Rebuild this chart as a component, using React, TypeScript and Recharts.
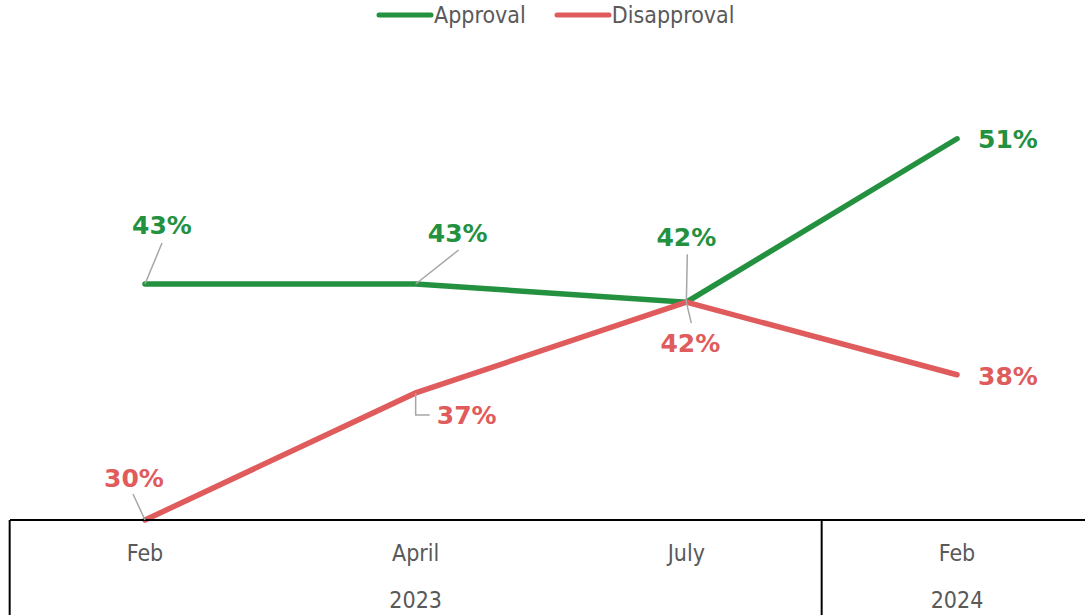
import { LineChart, Line, XAxis, YAxis, LabelList } from 'recharts';

const months = ['Feb', 'April', 'July', 'Feb'];
const years = ['2023', '2023', '2023', '2024'];
const approval = [43, 43, 42, 51];
const disapproval = [30, 37, 42, 38];

const data = months.map((m, i) => ({
    key: `${m} ${years[i]}`,
    approval: approval[i],
    disapproval: disapproval[i],
}));

const GREEN = '#23913f';
const RED = '#e05c5c';
const TEXT = '#595959';
const LEADER = '#a6a6a6';
const AXIS_FONT = "'DejaVu Sans Condensed', 'DejaVu Sans', sans-serif";
const LABEL_FONT = "'DejaVu Sans', sans-serif";

const BAND = 270.67;

// label placement relative to the point: text centre and leader line points
const approvalLabelPos = [
    { dx: 17, dy: -59, leader: [[17, -41]] },
    { dx: 42, dy: -51, leader: [[43, -34]] },
    { dx: 0, dy: -65, leader: [[1, -48]] },
    { dx: 51, dy: 1, leader: [] },
];
const disapprovalLabelPos = [
    { dx: -11, dy: -42, leader: [[-12, -26]] },
    { dx: 51, dy: 23, leader: [[0, 22], [14, 22]] },
    { dx: 4, dy: 41, leader: [[5, 21]] },
    { dx: 51, dy: 2, leader: [] },
];

function makeLabel(color: string, pos: typeof approvalLabelPos) {
    return (props: any) => {
        const { x, y, value, index } = props;
        const p = pos[index];
        if (!p) return null;
        const pts = [[0, 0], ...p.leader].map(([a, b]) => `${x + a},${y + b}`).join(' ');
        return (
            <g>
                {p.leader.length > 0 && (
                    <polyline points={pts} fill="none" stroke={LEADER} strokeWidth={1.5} />
                )}
                <text
                    x={x + p.dx}
                    y={y + p.dy}
                    textAnchor="middle"
                    dominantBaseline="central"
                    fill={color}
                    fontFamily={LABEL_FONT}
                    fontWeight="bold"
                    fontSize={25}
                >
                    {`${value}%`}
                </text>
            </g>
        );
    };
}

function AxisTick(props: any) {
    const { x, y, payload } = props;
    const i = payload.index;
    const isGroupStart = i === 0 || years[i] !== years[i - 1];
    const isLast = i === months.length - 1;
    let groupSize = 0;
    for (let j = i; j < years.length && years[j] === years[i]; j++) groupSize++;
    const groupCenter = x + ((groupSize - 1) / 2) * BAND;
    return (
        <g>
            <text
                x={x}
                y={y + 41}
                textAnchor="middle"
                fill={TEXT}
                fontFamily={AXIS_FONT}
                fontSize={23}
            >
                {months[i]}
            </text>
            {isGroupStart && (
                <>
                    <line x1={x - BAND / 2} y1={y} x2={x - BAND / 2} y2={y + 95} stroke="#000" strokeWidth={2} />
                    <text
                        x={groupCenter}
                        y={y + 88}
                        textAnchor="middle"
                        fill={TEXT}
                        fontFamily={AXIS_FONT}
                        fontSize={23}
                    >
                        {years[i]}
                    </text>
                </>
            )}
            {isLast && (
                <line x1={x + BAND / 2} y1={y} x2={x + BAND / 2} y2={y + 95} stroke="#000" strokeWidth={2} />
            )}
        </g>
    );
}

function LegendItem({ color, label }: { color: string; label: string }) {
    return (
        <div style={{ display: 'flex', alignItems: 'center', marginRight: 28 }}>
            <svg width={58} height={10}>
                <line x1={3} y1={5} x2={55} y2={5} stroke={color} strokeWidth={5} strokeLinecap="round" />
            </svg>
            <span style={{ fontFamily: AXIS_FONT, fontSize: 23, color: TEXT, lineHeight: '30px' }}>{label}</span>
        </div>
    );
}

export default function App() {
    return (
        <div style={{ position: 'absolute', left: 0, top: 0, width: 1085, height: 615, overflow: 'hidden', background: '#fff' }}>
            <div style={{ position: 'absolute', left: 376, top: 0, display: 'flex' }}>
                <LegendItem color={GREEN} label="Approval" />
                <LegendItem color={RED} label="Disapproval" />
            </div>
            <LineChart
                width={1100}
                height={615}
                data={data}
                margin={{ top: 48, right: 8, left: 10, bottom: 0 }}
            >
                <XAxis
                    dataKey="key"
                    height={95}
                    interval={0}
                    padding={{ left: 135, right: 135 }}
                    tickLine={false}
                    tickSize={0}
                    tickMargin={0}
                    axisLine={{ stroke: '#000', strokeWidth: 2 }}
                    tick={<AxisTick />}
                />
                <YAxis hide domain={[30, 56]} />
                <Line
                    dataKey="approval"
                    stroke={GREEN}
                    strokeWidth={5.5}
                    strokeLinecap="round"
                    dot={false}
                    activeDot={false}
                    isAnimationActive={false}
                >
                    <LabelList dataKey="approval" content={makeLabel(GREEN, approvalLabelPos)} />
                </Line>
                <Line
                    dataKey="disapproval"
                    stroke={RED}
                    strokeWidth={5.5}
                    strokeLinecap="round"
                    dot={false}
                    activeDot={false}
                    isAnimationActive={false}
                >
                    <LabelList dataKey="disapproval" content={makeLabel(RED, disapprovalLabelPos)} />
                </Line>
            </LineChart>
        </div>
    );
}
